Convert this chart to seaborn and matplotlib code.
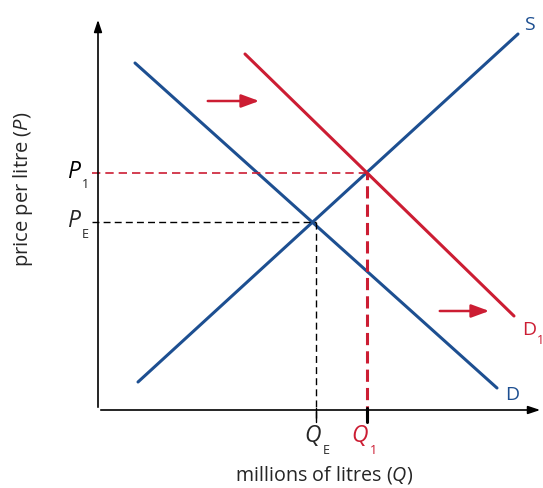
import pandas as pd
import numpy as np
import matplotlib.pyplot as plt
import seaborn as sns

sns.set_style("white")
plt.rcParams["font.family"] = ["Open Sans", "DejaVu Sans"]
plt.rcParams["mathtext.fontset"] = "custom"
plt.rcParams["mathtext.it"] = "Open Sans:italic"
plt.rcParams["mathtext.rm"] = "Open Sans"

# curve endpoints (x = quantity, y = price, in drawing units)
supply_x = [40, 420]
supply_y = [28, 376]
demand_x = [37, 399]
demand_y = [347, 22]
demand1_x = [147, 416]
demand1_y = [356, 94]

# equilibrium before / after
q_e, p_e = 218, 188
q_1, p_1 = 269, 237

# shift arrows
arrow_start_x = [107, 339]
arrow_end_x = [164, 394]
arrow_y = [309, 99]

blue = "#1d4f91"
red = "#cc1d33"

fig = plt.figure(figsize=(5.43, 4.88), dpi=100)
ax = fig.add_axes([0, 0, 1, 1])
ax.set_xlim(-98, 445)
ax.set_ylim(-78, 410)
ax.axis("off")

curves = pd.DataFrame({
    "Q": supply_x + demand_x + demand1_x,
    "P": supply_y + demand_y + demand1_y,
    "curve": ["S"] * 2 + ["D"] * 2 + ["D1"] * 2,
})
sns.lineplot(data=curves, x="Q", y="P", hue="curve", units="curve", estimator=None,
             palette={"S": blue, "D": blue, "D1": red}, linewidth=2.2,
             legend=False, ax=ax, sort=False)

# axes with arrows
ax.annotate("", xy=(0, 393), xytext=(0, 0),
            arrowprops=dict(arrowstyle="-|>,head_length=0.6,head_width=0.2",
                            color="black", lw=1.2, mutation_scale=12))
ax.annotate("", xy=(445, 0), xytext=(0, 0),
            arrowprops=dict(arrowstyle="-|>,head_length=0.6,head_width=0.2",
                            color="black", lw=1.2, mutation_scale=12))

# dashed guides
ax.plot([-6, q_e], [p_e, p_e], color="black", ls=(0, (5, 3)), lw=1)
ax.plot([q_e, q_e], [-8, p_e], color="black", ls=(0, (5, 3)), lw=1)
ax.plot([-6, q_1], [p_1, p_1], color=red, ls=(0, (5, 3)), lw=1.2)
ax.plot([q_1, q_1], [-8, p_1], color=red, ls=(0, (4, 2)), lw=2.2)
ax.plot([q_1, q_1], [-12, 2], color="black", lw=2.2)
ax.plot([q_e, q_e], [-12, 2], color="black", lw=1)

# shift arrows
for x0, x1, y in zip(arrow_start_x, arrow_end_x, arrow_y):
    ax.annotate("", xy=(x1, y), xytext=(x0, y),
                arrowprops=dict(arrowstyle="-|>,head_length=0.6,head_width=0.22",
                                color=red, lw=1.8, mutation_scale=18))

# labels
fs = 16.5
sub = 9
ax.text(-24, p_1 + 1, "$P$", fontsize=fs, ha="center", va="center", color="black")
ax.text(-13, p_1 - 11, "1", fontsize=sub, ha="center", va="center")
ax.text(-24, p_e + 1, "$P$", fontsize=fs, ha="center", va="center")
ax.text(-13, p_e - 12, "E", fontsize=sub, ha="center", va="center")
ax.text(q_e - 3, -26, "$Q$", fontsize=fs, ha="center", va="center")
ax.text(q_e + 10, -40, "E", fontsize=sub, ha="center", va="center")
ax.text(q_1 - 7, -26, "$Q$", fontsize=fs, ha="center", va="center", color=red)
ax.text(q_1 + 6, -40, "1", fontsize=sub, ha="center", va="center", color=red)

ax.text(431, 385, "S", fontsize=14, ha="center", va="center", color=blue)
ax.text(414, 15, "D", fontsize=14, ha="center", va="center", color=blue)
ax.text(431, 80, "D", fontsize=14, ha="center", va="center", color=red)
ax.text(442, 70, "1", fontsize=sub, ha="center", va="center", color=red)

ax.text(-75, 221, "price per litre ($P$)", fontsize=14.5, rotation=90,
        ha="center", va="center")
ax.text(226, -65, "millions of litres ($Q$)", fontsize=14.2, ha="center", va="center")

fig.savefig("out.png", dpi=100)
